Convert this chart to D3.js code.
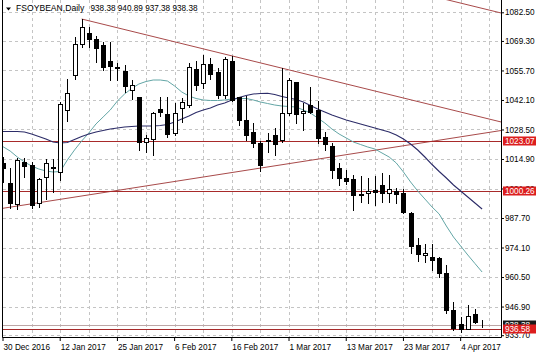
<!DOCTYPE html>
<html><head><meta charset="utf-8">
<script src="https://cdn.jsdelivr.net/npm/d3@7"></script>
<style>
body{margin:0;background:#fff;}
text{font-family:"Liberation Sans",Arial,sans-serif;font-size:8px;}
</style>
</head><body>
<svg id="c" width="536" height="357"></svg>
<script>
const symbol = "FSOYBEAN,Daily";
const dates = ["2016-12-30","2017-01-03","2017-01-04","2017-01-05","2017-01-06","2017-01-09","2017-01-10","2017-01-11","2017-01-12","2017-01-13","2017-01-17","2017-01-18","2017-01-19","2017-01-20","2017-01-23","2017-01-24","2017-01-25","2017-01-26","2017-01-27","2017-01-30","2017-01-31","2017-02-01","2017-02-02","2017-02-03","2017-02-06","2017-02-07","2017-02-08","2017-02-09","2017-02-10","2017-02-13","2017-02-14","2017-02-15","2017-02-16","2017-02-17","2017-02-21","2017-02-22","2017-02-23","2017-02-24","2017-02-27","2017-02-28","2017-03-01","2017-03-02","2017-03-03","2017-03-06","2017-03-07","2017-03-08","2017-03-09","2017-03-10","2017-03-13","2017-03-14","2017-03-15","2017-03-16","2017-03-17","2017-03-20","2017-03-21","2017-03-22","2017-03-23","2017-03-24","2017-03-27","2017-03-28","2017-03-29","2017-03-30","2017-03-31","2017-04-03","2017-04-04","2017-04-05","2017-04-06","2017-04-07"];
const opens = [1013.05,1003.84,994.16,1013.52,1012.13,994.62,1006.60,1010.89,1009.05,1037.48,
1053.61,1067.76,1072.82,1070.06,1067.43,1060.06,1057.29,1055.59,1046.70,1043.47,
1022.59,1023.98,1037.94,1035.64,1026.88,1038.40,1039.78,1056.37,1049.92,1058.68,
1054.99,1044.39,1060.06,1043.33,1032.87,1027.34,1022.27,1023.19,1025.96,1023.65,
1036.10,1050.38,1036.10,1039.78,1037.48,1025.04,1020.89,1010.75,1006.37,1005.68,
998.54,999.23,1000.84,1002.92,999.23,1000.15,999.23,990.01,975.27,970.52,
969.88,969.14,962.23,945.31,938.72,936.56,943.33,938.38];
const highs = [1015.82,1010.75,1015.50,1015.36,1013.52,1006.14,1014.90,1014.90,1041.17,1051.76,
1071.26,1079.41,1075.87,1071.58,1068.95,1068.95,1059.28,1058.22,1051.30,1043.61,
1025.96,1036.56,1043.47,1043.47,1040.70,1043.01,1059.28,1060.20,1062.82,1061.30,
1056.70,1062.04,1062.36,1043.61,1043.93,1031.49,1023.19,1026.88,1029.18,1056.83,
1052.23,1050.52,1040.57,1047.94,1041.63,1027.48,1022.27,1012.92,1009.83,1007.52,
1007.06,1006.14,1007.06,1008.31,1007.52,1001.76,1000.93,990.61,978.36,975.73,
975.73,969.51,966.05,949.14,941.95,947.62,945.77,940.89];
const lows = [1004.30,992.32,991.86,1006.60,992.32,992.78,996.46,999.69,1005.22,1032.41,
1051.76,1066.51,1066.65,1059.74,1055.91,1051.30,1051.30,1045.91,1042.55,1019.05,
1018.26,1016.74,1034.71,1025.17,1025.96,1032.09,1039.00,1046.70,1047.48,1051.63,
1042.87,1042.87,1041.63,1030.57,1023.65,1020.57,1009.51,1018.26,1016.74,1022.87,
1035.17,1031.35,1028.26,1035.96,1022.13,1019.05,1006.00,1002.92,1003.15,991.40,
995.08,994.62,993.70,995.08,995.08,994.85,990.15,971.44,967.89,967.57,
963.75,960.66,943.79,936.10,935.31,936.42,939.18,937.38];
const closes = [1010.75,994.62,1014.44,1011.67,993.70,1005.68,1013.05,1011.35,1040.24,1045.31,
1067.89,1075.87,1070.06,1066.19,1057.43,1057.89,1056.83,1048.54,1049.00,1022.87,
1024.44,1036.23,1036.56,1026.42,1036.10,1041.17,1057.43,1049.00,1058.68,1054.07,
1044.39,1060.98,1042.09,1032.87,1025.96,1022.27,1012.13,1023.65,1021.81,1036.10,
1051.30,1035.50,1037.16,1036.56,1024.71,1021.81,1009.83,1006.14,1004.99,998.31,
998.31,1000.38,999.69,999.23,1001.07,998.54,990.61,974.81,971.12,971.72,
968.35,962.23,945.31,936.88,936.56,942.69,939.92,938.38];
const maFast = [1020.57,1018.58,1015.82,1013.52,1011.67,1010.29,1009.37,1008.91,1009.14,1014.44,
1019.05,1023.19,1026.88,1031.03,1034.25,1037.48,1041.63,1044.85,1047.39,1049.46,
1050.61,1051.30,1051.30,1050.84,1048.54,1045.77,1043.93,1042.78,1042.09,1041.86,
1041.86,1042.09,1042.55,1042.78,1042.78,1042.09,1041.17,1040.47,1039.78,1039.32,
1039.09,1038.86,1037.48,1036.10,1033.79,1031.49,1028.72,1026.42,1024.58,1022.73,
1021.58,1020.43,1019.51,1017.66,1015.82,1013.05,1008.91,1004.30,1000.15,996.46,
992.78,989.55,984.02,978.95,974.81,970.66,966.74,962.82];
const maSlow = [1027.57,1027.57,1027.57,1027.34,1026.42,1025.27,1024.11,1022.73,1022.27,1022.50,
1023.88,1025.27,1026.42,1027.34,1028.03,1028.72,1029.18,1029.64,1029.88,1030.11,
1030.11,1030.11,1030.34,1030.80,1031.95,1033.33,1034.71,1036.33,1037.48,1038.40,
1039.78,1040.70,1042.09,1043.24,1044.16,1044.85,1045.08,1045.17,1044.62,1043.70,
1043.01,1042.32,1041.17,1039.55,1037.94,1036.56,1035.17,1034.02,1032.87,1031.95,
1031.03,1030.11,1029.18,1028.26,1027.34,1025.96,1024.11,1021.81,1019.05,1015.82,
1012.36,1009.14,1006.14,1002.92,1000.15,997.39,994.62,991.86];
const yTicks = [1082.50,1069.30,1055.70,1042.10,1028.50,1014.90,1001.30,987.70,974.10,960.50,946.90,933.70];
const xTickIdx = [0,8,16,24,32,40,48,56,64];
const levels = [1023.07,1000.26,936.58];
const bidPrice = 938.38;
// trendlines as [barIndex, price] anchors
const trendUpper = [[11,1079.41],[69.66,1031.95]];
const trendChannel = [[55,1094.0],[69.66,1082.18]];
const trendLower = [[-0.04,992.17],[69.66,1028.03]];

const W=536,H=357;
const L=3,R=501,T=0,B=337;
const x = d3.scaleLinear().domain([0,67]).range([3,482.1]);
const y = d3.scaleLinear().domain([932.87,1088.17]).range([B,T]);
const px = v => Math.round(v)+0.5;

const svg = d3.select('#c');
svg.append('rect').attr('width',W).attr('height',H).attr('fill','#fff');
svg.append('defs').append('clipPath').attr('id','clip')
  .append('rect').attr('x',L).attr('y',T).attr('width',R-L).attr('height',B-T);

// grid
const grid = svg.append('g').attr('stroke','#c4c4c4').attr('stroke-dasharray','3,3').attr('stroke-width',1);
yTicks.forEach(v=>{ const yy=px(y(v)); if(yy>T && yy<B) grid.append('line').attr('x1',L).attr('x2',R).attr('y1',yy).attr('y2',yy); });
d3.range(4,69,4).forEach(i=>{ const xx=px(x(i)); grid.append('line').attr('x1',xx).attr('x2',xx).attr('y1',T).attr('y2',B); });

const plot = svg.append('g').attr('clip-path','url(#clip)');

// trendlines
const tl = d3.line().x(d=>x(d[0])).y(d=>y(d[1]));
[trendUpper,trendChannel,trendLower].forEach(t=>{
  plot.append('path').attr('d',tl(t)).attr('fill','none').attr('stroke','#a84a4a').attr('stroke-width',1);
});

// horizontal levels
levels.forEach(v=>{ const yy=px(y(v));
  plot.append('line').attr('x1',L).attr('x2',R).attr('y1',yy).attr('y2',yy).attr('stroke','#a82a2a').attr('stroke-width',1);
});
{ const yy=px(y(bidPrice));
  plot.append('line').attr('x1',L).attr('x2',R).attr('y1',yy).attr('y2',yy).attr('stroke','#bca6a6').attr('stroke-width',1); }

// moving averages
const ml = d3.line().x((d,i)=>x(i)).y(d=>y(d));
plot.append('path').attr('d',ml(maFast)).attr('fill','none').attr('stroke','#63a6a6').attr('stroke-width',1);
plot.append('path').attr('d',ml(maSlow)).attr('fill','none').attr('stroke','#2c2c68').attr('stroke-width',1.1);

// candles
const cg = plot.append('g');
opens.forEach((o,i)=>{
  const c=closes[i], cx=px(x(i));
  cg.append('line').attr('x1',cx).attr('x2',cx).attr('y1',Math.round(y(highs[i]))).attr('y2',Math.round(y(lows[i]))+1)
    .attr('stroke','#000').attr('stroke-width',1);
  const top=Math.round(y(Math.max(o,c))), bot=Math.round(y(Math.min(o,c)));
  cg.append('rect').attr('x',cx-2).attr('width',4).attr('y',top+0.5).attr('height',Math.max(0,bot-top))
    .attr('fill', c>=o ? '#fff' : '#000').attr('stroke','#000').attr('stroke-width',1);
});

// axes
const ya = svg.append('g').attr('transform',`translate(${R},0)`)
  .call(d3.axisRight(y).tickValues(yTicks).tickSize(3).tickPadding(1).tickFormat(d3.format('.2f')));
ya.select('.domain').remove();
ya.selectAll('text').attr('fill','#000').style('font-size','8.2px');
const fmt = d3.timeFormat('%-d %b %Y'), parse=d3.timeParse('%Y-%m-%d');
const xa = svg.append('g').attr('transform',`translate(0,${B})`)
  .call(d3.axisBottom(x).tickValues(xTickIdx).tickSize(4).tickPadding(3).tickFormat(i=>fmt(parse(dates[i]))));
xa.select('.domain').remove();
xa.selectAll('text').attr('text-anchor','start').attr('x',0).attr('fill','#000').style('font-size','8.2px');
xa.selectAll('.tick line').attr('transform','translate(-0.5,0)');

// frame
const fr = svg.append('g').attr('stroke','#000').attr('stroke-width',1);
fr.append('line').attr('x1',2.5).attr('x2',2.5).attr('y1',0).attr('y2',B+0.5);
fr.append('line').attr('x1',2.5).attr('x2',R+0.5).attr('y1',B+0.5).attr('y2',B+0.5);
fr.append('line').attr('x1',R+0.5).attr('x2',R+0.5).attr('y1',0).attr('y2',B+0.5);

// price labels
function priceLabel(v,bg){
  const yy=Math.round(y(v));
  svg.append('rect').attr('x',503).attr('y',yy-4.5).attr('width',33).attr('height',9).attr('fill',bg);
  svg.append('text').attr('x',505).attr('y',yy).attr('dy','0.34em').attr('fill','#fff').style('font-size','8.2px').text(d3.format('.2f')(v));
}
priceLabel(bidPrice,'#1a1a1a');
levels.forEach(v=>priceLabel(v,'#dc1e1e'));

// title
svg.append('path').attr('d','M6,7.5 L11,7.5 L8.5,10.5 Z').attr('fill','#000');
svg.append('text').attr('x',16).attr('y',11.3).attr('fill','#000').style('font-size','8.6px').text(symbol);
const last=opens.length-1, f2=d3.format('.2f');
svg.append('text').attr('x',90.5).attr('y',11.3).attr('fill','#000').style('font-size','8.2px')
  .text([opens[last],highs[last],lows[last],closes[last]].map(f2).join(' '));
</script>
</body></html>
